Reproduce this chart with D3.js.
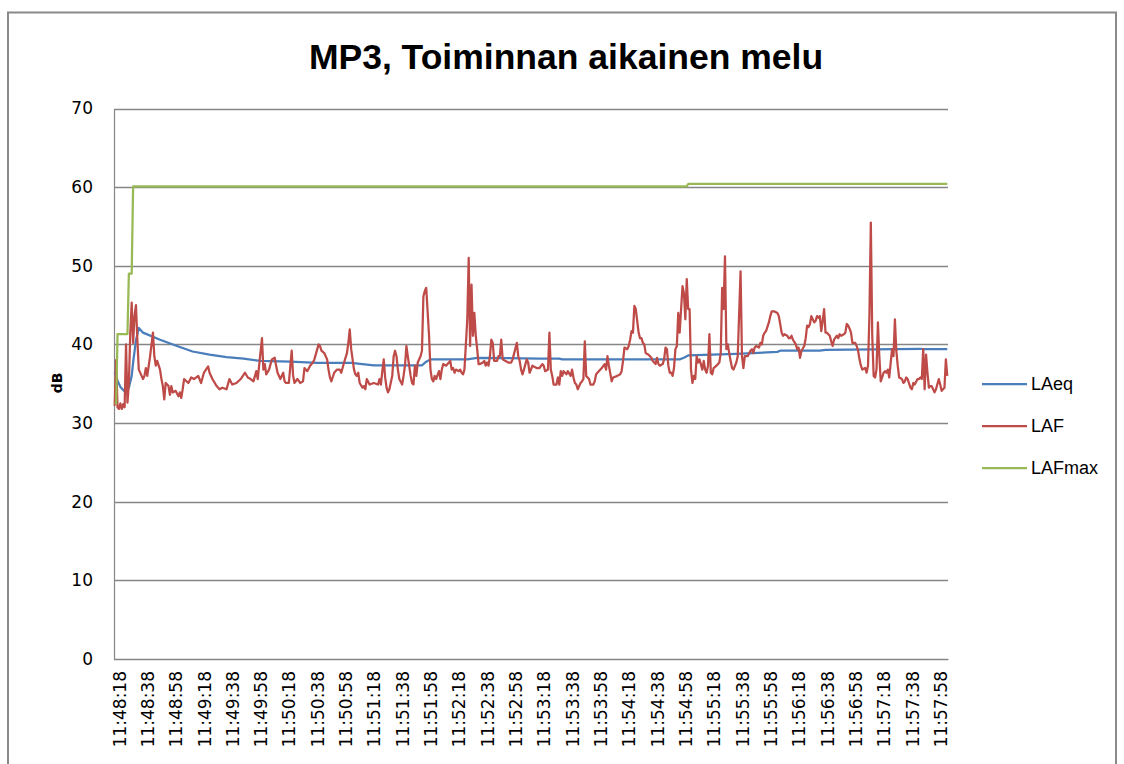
<!DOCTYPE html>
<html>
<head>
<meta charset="utf-8">
<script src="https://cdn.jsdelivr.net/npm/d3@7"></script>
<style>
  body { margin: 0; background: #fff; }
  svg { display: block; }
</style>
</head>
<body>
<svg id="chart" width="1124" height="764"></svg>
<script>

// first sample of the log, one sample per second
var startTime = '11:48:15';
var sampleCount = 589;

var tickLabels = ['11:48:18','11:48:38','11:48:58','11:49:18','11:49:38','11:49:58',
  '11:50:18','11:50:38','11:50:58','11:51:18','11:51:38','11:51:58','11:52:18','11:52:38',
  '11:52:58','11:53:18','11:53:38','11:53:58','11:54:18','11:54:38','11:54:58','11:55:18',
  '11:55:38','11:55:58','11:56:18','11:56:38','11:56:58','11:57:18','11:57:38','11:57:58'];

var yTicks = [0, 10, 20, 30, 40, 50, 60, 70];

var seriesNames = ['LAeq', 'LAF', 'LAFmax'];
var seriesColors = ['#4A7EBB', '#BE4B48', '#98B954'];

// [second, dB]
var laeq = [[0,36.5],[2,35.4],[4,34.6],[7,34.0],[10,34.5],[12,36.0],[13,37.7],[15,40.5],
  [17,42.1],[20,41.5],[32,40.6],[44,39.8],[55,39.1],[67,38.7],[79,38.4],[91,38.2],[103,37.9],
  [124,37.8],[143,37.65],[167,37.65],[183,37.35],[217,37.35],[220,37.8],[223,38.1],[249,38.1],
  [256,38.3],[300,38.2],[314,38.2],[316,38.1],[399,38.1],[402,38.3],[405,38.6],[439,38.8],
  [468,39.05],[470,39.2],[498,39.2],[502,39.3],[569,39.45],[571,39.4],[588,39.4]];

var laf = [[0,32.2],[1,38.0],[2,32.0],[3,31.8],[4,32.5],[5,31.8],[6,32.4],[7,32.0],[8,40.0],
  [9,32.6],[10,35.0],[11,41.5],[12,45.3],[13,40.2],[14,43.6],[15,45.0],[16,40.6],[17,36.8],
  [19,36.0],[20,35.6],[21,36.0],[22,37.0],[23,36.0],[25,38.5],[27,41.5],[28,38.5],[29,37.3],
  [30,37.9],[32,36.8],[33,35.6],[34,34.7],[35,33.0],[36,35.1],[38,34.7],[39,33.6],[40,34.7],
  [41,33.9],[43,34.1],[45,33.4],[46,33.9],[47,33.2],[48,34.3],[49,35.6],[52,35.1],[54,35.8],
  [56,35.6],[59,36.0],[61,35.1],[63,36.4],[66,37.2],[67,36.4],[69,35.6],[72,34.7],[74,34.3],
  [76,34.5],[79,34.3],[81,35.6],[83,34.9],[86,35.1],[89,35.6],[92,36.4],[94,35.8],
  [96,35.6],[98,35.3],[100,36.6],[101,35.6],[102,37.3],[104,40.8],[105,36.8],[106,37.5],
  [107,36.2],[109,36.8],[111,38.1],[113,38.3],[114,37.3],[115,36.4],[117,35.6],[119,36.4],
  [120,35.3],[121,35.1],[123,35.1],[125,39.2],[126,36.0],[127,35.1],[129,35.6],[131,35.1],
  [133,35.3],[134,37.0],[136,36.6],[138,37.3],[140,37.7],[141,38.1],[144,40.0],[145,39.8],
  [146,39.2],[148,38.9],[150,38.1],[151,36.8],[152,35.8],[153,35.3],[155,36.4],[157,36.8],
  [159,36.8],[160,36.4],[162,37.7],[164,38.9],[165,40.2],[166,41.9],[167,39.4],[169,36.8],
  [170,36.2],[171,36.0],[172,36.4],[173,35.1],[175,34.5],[176,34.7],[177,34.3],[178,35.6],
  [180,34.9],[183,35.1],[186,34.9],[187,35.6],[188,34.9],[189,36.6],[190,38.1],[191,35.8],
  [192,34.5],[193,33.9],[194,34.3],[196,36.0],[197,38.5],[198,39.2],[199,38.5],[200,36.8],
  [201,35.6],[203,34.9],[204,36.0],[205,37.3],[206,39.8],[207,38.5],[209,36.0],[210,35.1],
  [211,34.9],[212,37.3],[213,36.0],[214,37.7],[216,38.5],[217,39.2],[218,46.1],[219,46.8],
  [220,47.2],[222,41.1],[223,36.8],[224,35.6],[225,35.3],[226,36.0],[227,35.6],[229,36.6],
  [230,35.6],[231,36.8],[232,37.5],[234,37.3],[236,37.7],[237,37.9],[238,36.8],[239,37.0],
  [240,36.4],[241,36.8],[243,36.6],[244,36.8],[245,36.4],[246,36.2],[247,36.8],[249,43.2],
  [250,51.0],[251,39.8],[252,47.6],[253,41.1],[254,44.0],[255,41.1],[256,39.4],[257,37.5],
  [258,37.5],[260,37.7],[261,37.9],[262,37.3],[263,37.7],[264,37.3],[265,38.5],[266,40.6],
  [267,40.2],[268,37.9],[270,37.9],[271,38.5],[272,38.5],[273,40.6],[274,38.1],[276,37.9],
  [278,37.7],[280,37.7],[281,38.1],[284,40.2],[285,38.5],[286,37.9],[287,36.8],[288,36.2],
  [289,36.8],[291,38.1],[292,37.7],[293,36.4],[294,36.8],[295,37.3],[298,37.0],[300,37.0],
  [302,37.5],[303,37.3],[304,36.6],[306,36.8],[307,41.5],[308,36.8],[309,36.0],[310,34.9],
  [312,34.9],[313,35.8],[314,34.9],[315,36.6],[316,36.0],[317,36.6],[319,36.2],[320,36.6],
  [322,36.0],[323,36.8],[324,35.8],[325,35.1],[326,34.9],[327,34.3],[329,35.1],[330,35.3],
  [331,35.6],[332,40.4],[333,36.0],[335,35.6],[336,34.9],[338,34.9],[339,35.3],[340,36.2],
  [343,36.8],[344,37.0],[346,37.5],[347,36.8],[348,38.5],[349,37.3],[351,35.3],[352,35.8],
  [355,36.0],[357,36.2],[358,36.6],[359,37.9],[360,39.6],[362,39.4],[363,39.8],[364,40.6],
  [365,41.7],[366,41.5],[367,44.9],[368,44.5],[370,41.5],[371,40.8],[372,40.8],[373,40.2],
  [374,40.0],[375,38.9],[377,38.7],[378,38.5],[379,38.3],[380,37.9],[382,37.5],[383,38.3],
  [384,37.5],[385,37.3],[387,37.5],[388,38.1],[389,39.6],[390,39.4],[391,37.3],[392,36.4],
  [393,36.4],[394,36.0],[395,37.0],[396,39.4],[397,39.8],[398,44.0],[399,41.5],[400,44.5],
  [401,47.4],[402,46.5],[403,43.2],[404,48.3],[405,44.5],[406,44.5],[407,36.8],[408,35.1],
  [409,36.0],[410,35.6],[411,38.5],[412,37.7],[413,38.1],[415,36.8],[416,37.9],[417,36.8],
  [418,36.4],[419,37.3],[420,41.3],[421,36.4],[422,36.2],[423,37.0],[425,37.3],[427,37.7],
  [428,38.9],[429,47.2],[430,44.5],[431,51.2],[432,39.4],[433,40.0],[434,38.9],[435,37.9],
  [436,37.0],[437,36.8],[439,37.7],[440,38.5],[442,49.3],[443,38.5],[444,37.0],[445,38.5],
  [447,38.5],[449,39.2],[450,39.4],[451,38.9],[452,39.6],[453,39.8],[455,39.6],[456,40.2],
  [457,40.0],[458,41.1],[459,41.5],[460,41.7],[462,42.8],[463,43.6],[464,44.2],[466,44.2],
  [468,44.0],[469,43.6],[470,42.6],[471,41.5],[472,41.1],[473,41.3],[475,41.1],[476,40.8],
  [477,40.8],[478,41.1],[479,40.6],[481,40.0],[482,39.4],[483,39.6],[484,38.3],[485,39.2],
  [487,39.8],[488,40.8],[489,42.4],[490,42.2],[491,42.6],[492,43.6],[494,42.8],[495,43.0],
  [496,43.6],[497,43.4],[498,43.6],[499,41.7],[500,43.0],[501,44.5],[502,41.5],[503,41.5],
  [504,41.3],[505,41.1],[506,40.4],[507,39.8],[508,40.6],[510,41.1],[511,40.8],[512,41.3],
  [513,41.1],[515,41.3],[516,41.5],[517,42.6],[518,42.4],[519,42.0],[520,41.5],[521,40.2],
  [523,40.2],[524,39.8],[525,39.2],[526,38.1],[527,37.3],[528,36.8],[530,37.0],[531,36.4],
  [532,37.3],[533,43.6],[534,55.5],[535,41.1],[536,36.0],[537,35.8],[538,36.8],[539,42.8],
  [540,38.5],[541,35.3],[542,35.8],[543,36.4],[544,36.6],[545,36.4],[546,36.8],[547,35.8],
  [549,39.4],[550,38.5],[551,43.2],[552,39.2],[553,37.3],[554,35.8],[556,35.6],[557,35.1],
  [558,35.3],[559,35.8],[560,35.6],[562,34.5],[563,34.3],[564,35.1],[565,34.9],[567,35.6],
  [568,35.6],[569,35.8],[570,35.6],[571,39.4],[572,34.3],[573,38.7],[574,36.4],[575,34.5],
  [576,34.7],[577,34.7],[578,34.3],[579,33.9],[580,34.3],[582,35.6],[583,34.9],[584,34.1],
  [585,34.3],[586,34.5],[587,38.1],[588,36.0]];

var lafmax = [[0,32.5],[1,32.5],[2,41.3],[9,41.3],[10,49.0],[12,49.0],[13,60.1],[404,60.1],
  [405,60.4],[588,60.4]];

var series = [laeq, laf, lafmax];

var svg = d3.select('#chart'),
  plotLeft = 114,
  plotRight = 948,
  plotTop = 108.5,
  plotBottom = 659;

var fontAxis = 'DejaVu Sans, Verdana, sans-serif';

// outer chart border
svg.append('rect')
  .attr('x', 8).attr('y', 12.5)
  .attr('width', 1108).attr('height', 780)
  .attr('fill', '#fff')
  .attr('stroke', '#8a8a8a')
  .attr('stroke-width', 2);

var x = d3.scaleLinear()
  .domain([-0.5, sampleCount - 0.5])
  .range([plotLeft, plotRight]);

var y = d3.scaleLinear()
  .domain([0, 70])
  .range([plotBottom, plotTop]);

function secondsOf(t) {
  var p = t.split(':');
  return (+p[0]) * 3600 + (+p[1]) * 60 + (+p[2]);
}
var t0 = secondsOf(startTime);
var tickIndex = tickLabels.map(function(t) { return secondsOf(t) - t0; });

// gridlines
svg.append('g')
  .selectAll('line')
  .data(yTicks)
  .enter()
  .append('line')
  .attr('x1', plotLeft).attr('x2', plotRight)
  .attr('y1', function(d) { return Math.round(y(d)) + 0.5; })
  .attr('y2', function(d) { return Math.round(y(d)) + 0.5; })
  .attr('stroke', '#868686')
  .attr('stroke-width', 1.4);

// y axis
var yAxis = svg.append('g')
  .attr('transform', 'translate(' + plotLeft + ',0)')
  .call(d3.axisLeft(y).tickValues(yTicks).tickSize(0).tickPadding(21));
yAxis.select('.domain').attr('stroke', '#868686').attr('stroke-width', 1.2);
yAxis.selectAll('text')
  .style('font-family', fontAxis)
  .style('font-size', '17px')
  .attr('fill', '#000');

// x axis
var xAxis = svg.append('g')
  .attr('transform', 'translate(0,' + plotBottom + ')')
  .call(d3.axisBottom(x)
    .tickValues(tickIndex)
    .tickFormat(function(d, i) { return tickLabels[i]; })
    .tickSize(0));
xAxis.select('.domain').attr('stroke', '#868686').attr('stroke-width', 1.2);
xAxis.selectAll('text')
  .attr('transform', 'rotate(-90)')
  .attr('x', -12)
  .attr('y', 0)
  .attr('dy', '0.36em')
  .style('text-anchor', 'end')
  .style('font-family', fontAxis)
  .style('font-size', '17px')
  .attr('fill', '#000');

// y title
svg.append('text')
  .attr('transform', 'translate(62,383) rotate(-90)')
  .attr('text-anchor', 'middle')
  .style('font-family', fontAxis)
  .style('font-weight', 'bold')
  .style('font-size', '14px')
  .text('dB');

// title
svg.append('text')
  .attr('x', 566)
  .attr('y', 69)
  .attr('text-anchor', 'middle')
  .style('font-family', 'Liberation Sans, Arial, sans-serif')
  .style('font-weight', 'bold')
  .style('font-size', '35.5px')
  .text('MP3, Toiminnan aikainen melu');

// series
var line = d3.line()
  .x(function(d) { return x(d[0]); })
  .y(function(d) { return y(d[1]); });

svg.append('g')
  .selectAll('path')
  .data(series)
  .enter()
  .append('path')
  .attr('d', line)
  .attr('fill', 'none')
  .attr('stroke', function(d, i) { return seriesColors[i]; })
  .attr('stroke-width', 2.25)
  .attr('stroke-linejoin', 'round');

// legend
var legend = svg.append('g')
  .selectAll('g')
  .data(seriesNames)
  .enter()
  .append('g')
  .attr('transform', function(d, i) { return 'translate(982,' + (384 + i * 42) + ')'; });

legend.append('line')
  .attr('x1', 0).attr('x2', 45)
  .attr('stroke', function(d, i) { return seriesColors[i]; })
  .attr('stroke-width', 2.25);

legend.append('text')
  .attr('x', 49)
  .attr('dy', '0.35em')
  .style('font-family', 'Liberation Sans, Arial, sans-serif')
  .style('font-size', '18px')
  .text(function(d) { return d; });

</script>
</body>
</html>
